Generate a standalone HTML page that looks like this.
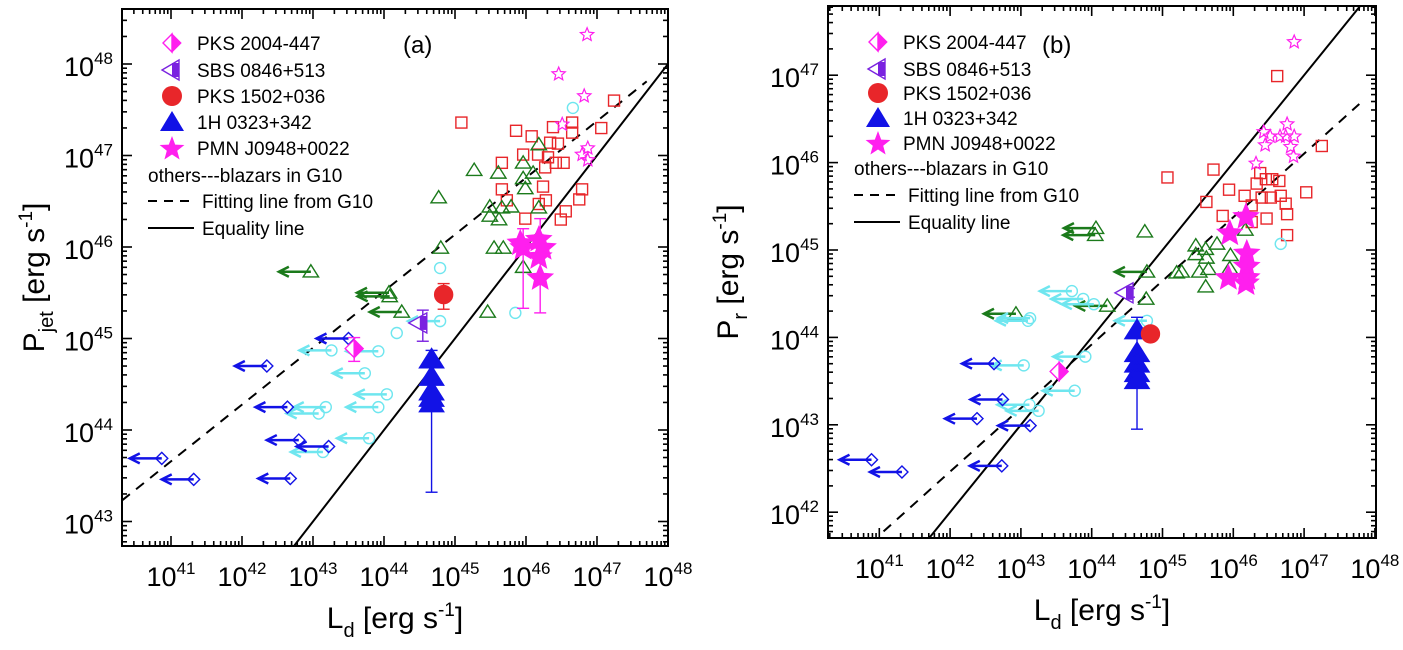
<!DOCTYPE html>
<html><head><meta charset="utf-8"><style>
html,body{margin:0;padding:0;background:#fff;overflow:hidden;width:1403px;height:650px;}
svg{display:block;font-family:"Liberation Sans",Arial,sans-serif;}
</style></head><body>
<svg id="chart" width="1403" height="650" viewBox="0 0 1403 650" xmlns="http://www.w3.org/2000/svg">
<rect x="0" y="0" width="1403" height="650" fill="#fff"/>
</svg>
<script>
// ---------- Panel (a) data (log10 values) ----------
const aRedSquares=[[45.09,47.36],[45.86,47.27],[46.08,47.21],[46.38,47.31],[46.65,47.36],[46.65,47.25],[47.24,47.60],[47.06,47.30],[46.34,47.14],[46.45,47.13],[45.96,47.01],[46.17,47.01],[46.31,46.98],[46.27,46.87],[45.66,46.92],[46.42,46.92],[46.53,46.92],[45.66,46.63],[46.24,46.66],[46.28,46.51],[45.73,46.51],[46.18,46.47],[46.79,46.63],[46.75,46.52],[46.56,46.39],[46.49,46.30],[45.99,46.31]];
const aGreenTri=[[45.27,46.84],[45.61,46.81],[45.96,46.92],[46.18,47.12],[45.96,46.75],[46.10,46.81],[45.99,46.64],[44.77,46.54],[45.49,46.44],[45.66,46.43],[45.79,46.44],[45.49,46.34],[45.62,46.30],[46.18,46.43],[45.55,45.99],[45.68,45.99],[44.80,45.99],[45.96,45.78],[45.46,45.29]];
const aGreenLim=[[42.97,45.73],[44.07,45.50],[44.08,45.46],[44.25,45.29]];
const aCyanCirc=[[44.79,45.77],[44.18,45.06],[46.66,47.52],[45.85,45.28]];
const aCyanLim=[[44.79,45.19],[43.26,44.87],[43.92,44.86],[43.73,44.62],[44.04,44.39],[43.92,44.25],[43.18,44.25],[43.08,44.18],[43.79,43.91],[43.14,43.76]];
const aBlueLim=[[43.50,45.00],[42.35,44.70],[42.64,44.25],[42.80,43.89],[43.22,43.82],[40.87,43.69],[41.32,43.46],[42.68,43.47]];
const aOpenStars=[[46.86,48.32],[46.46,47.89],[46.82,47.65],[46.51,47.34],[46.87,47.08],[46.79,47.01],[46.87,46.95]];
const aFilledStars=[[45.96,45.99],[46.18,46.08],[46.24,45.99],[46.18,45.89],[46.20,45.66],[45.92,46.04]];
const aStarErr=[[45.96,46.20,45.33],[46.20,46.31,45.28]];
const aPKS2004=[43.58,44.89,45.01,44.75];
const aSBS=[44.49,45.17,45.31,44.97];
const aPKS1502=[44.84,45.48,45.60,45.32];
const a1H_X=44.67;
const a1H_Y=[44.77,44.58,44.42,44.35,44.29];
const a1H_Err=[44.87,43.32];
const aFit=[[40.31,43.23],[47.70,47.81]];
// ---------- Panel (b) data ----------
const bRedSquares=[[46.62,46.99],[45.07,45.83],[45.72,45.92],[47.25,46.19],[45.94,45.69],[45.62,45.55],[46.38,45.88],[46.46,45.81],[46.55,45.81],[46.65,45.79],[46.33,45.76],[46.16,45.62],[46.40,45.60],[46.53,45.60],[46.67,45.62],[46.74,45.53],[46.26,45.51],[47.03,45.66],[46.76,45.41],[45.85,45.39],[46.47,45.36],[46.26,45.32],[46.76,45.17]];
const bGreenTri=[[44.75,45.21],[44.77,44.44],[45.20,44.74],[45.47,45.05],[45.61,45.01],[45.77,45.07],[45.47,44.95],[45.62,44.91],[45.96,44.94],[45.65,44.78],[45.27,44.75],[45.52,44.75],[45.95,44.79],[45.61,44.58],[46.17,45.23]];
const bGreenLim=[[44.06,45.25],[44.05,45.17],[44.78,44.75],[44.22,44.36],[42.93,44.27]];
const bCyanCirc=[[46.67,45.07]];
const bCyanLim=[[43.72,44.53],[43.88,44.44],[44.03,44.38],[43.13,44.22],[43.10,44.19],[44.78,44.19],[43.04,43.68],[43.91,43.78],[43.76,43.39],[43.12,43.23],[43.25,43.16]];
const bBlueLim=[[42.62,43.70],[42.74,43.29],[42.38,43.07],[43.13,42.99],[40.89,42.60],[41.32,42.46],[42.73,42.53]];
const bOpenStars=[[46.86,47.38],[46.76,46.44],[46.43,46.35],[46.52,46.30],[46.66,46.30],[46.74,46.30],[46.86,46.30],[46.45,46.20],[46.81,46.18],[46.85,46.07],[46.32,45.99]];
const bFilledStars=[[46.18,45.38],[45.95,45.19],[46.19,44.96],[45.93,44.68],[46.19,44.81],[46.19,44.68],[46.18,44.62]];
const bPKS2004=[43.54,43.61,43.64,43.58];
const bSBS=[44.47,44.51,44.56,44.46];
const bPKS1502=[44.83,44.04,44.04,44.04];
const b1H_X=44.64;
const b1H_Y=[44.08,43.82,43.70,43.59,43.51];
const b1H_Err=[44.23,42.95];
const bFit=[[41.06,41.78],[47.78,46.67]];

const legendNames=["PKS 2004-447","SBS 0846+513","PKS 1502+036","1H 0323+342","PMN J0948+0022"];

const NS="http://www.w3.org/2000/svg";
const svg=document.getElementById('chart');
const C={red:'#e8262a',green:'#1b7a1b',cyan:'#6fe6ef',blue:'#1212e6',mag:'#ff1fee',pur:'#7a22e0'};
function el(tag,attrs,parent){const e=document.createElementNS(NS,tag);for(const k in attrs)e.setAttribute(k,attrs[k]);(parent||svg).appendChild(e);return e;}

function makePanel(P){
  const g=el('g',{});
  
  
  const sx=v=>P.x41+(v-41)*P.dec, sy=v=>P.yref+(P.yrefV-v)*P.decY;
  const xMin=41+(P.L-P.x41)/P.dec,xMax=41+(P.R-P.x41)/P.dec;
  const yMin=P.yrefV-(P.B-P.yref)/P.decY,yMax=P.yrefV+(P.yref-P.T)/P.decY;
  const clipId='clip'+P.id;
  const cp=el('clipPath',{id:clipId},g);el('rect',{x:P.L,y:P.T,width:P.R-P.L,height:P.B-P.T},cp);
  const plot=el('g',{'clip-path':'url(#'+clipId+')'},g);
  const lo=Math.max(xMin,yMin),hi=Math.min(xMax,yMax);
  const eq=el('line',{x1:sx(lo),y1:sy(lo),x2:sx(hi),y2:sy(hi),stroke:'#000','stroke-width':2},plot);
  
  const fit=el('line',{x1:sx(P.fit[0][0]),y1:sy(P.fit[0][1]),x2:sx(P.fit[1][0]),y2:sy(P.fit[1][1]),stroke:'#000','stroke-width':2,'stroke-dasharray':'10,8'},plot);
  
  const m=el('g',{},plot);
  const arrow=(x,y,col)=>{el('line',{x1:x,y1:y,x2:x-32,y2:y,stroke:col,'stroke-width':2.5},m);el('polyline',{points:(x-22)+','+(y-5)+' '+(x-32)+','+y+' '+(x-22)+','+(y+5),fill:'none',stroke:col,'stroke-width':2.5},m);};
  const sq=(x,y,col)=>el('rect',{x:x-5.5,y:y-5.5,width:11,height:11,fill:'none',stroke:col,'stroke-width':1.4},m);
  const tri=(x,y,col,fill,s)=>{s=s||7;el('polygon',{points:x+','+(y-s)+' '+(x+s*1.1)+','+(y+s*0.75)+' '+(x-s*1.1)+','+(y+s*0.75),fill:fill?col:'none',stroke:col,'stroke-width':1.4},m);};
  const circ=(x,y,col,r,fill)=>el('circle',{cx:x,cy:y,r:r,fill:fill?col:'none',stroke:col,'stroke-width':1.4},m);
  const dia=(x,y,col)=>el('polygon',{points:x+','+(y-6)+' '+(x+6)+','+y+' '+x+','+(y+6)+' '+(x-6)+','+y,fill:'none',stroke:col,'stroke-width':1.4},m);
  const star=(x,y,col,r,fill)=>{let p=[];for(let i=0;i<10;i++){const a=-Math.PI/2+i*Math.PI/5,rr=i%2?r*0.45:r;p.push((x+rr*Math.cos(a)).toFixed(1)+','+(y+rr*Math.sin(a)).toFixed(1));}el('polygon',{points:p.join(' '),fill:fill?col:'none',stroke:col,'stroke-width':1.2},m);};
  const err=(x,y1,y2,col)=>{el('line',{x1:x,y1:y1,x2:x,y2:y2,stroke:col,'stroke-width':1.4},m);[y1,y2].forEach(yy=>el('line',{x1:x-6,y1:yy,x2:x+6,y2:yy,stroke:col,'stroke-width':1.4},m));};
  P.redSq.forEach(d=>sq(sx(d[0]),sy(d[1]),C.red));
  P.greenTri.forEach(d=>tri(sx(d[0]),sy(d[1]),C.green,false));
  P.greenLim.forEach(d=>{arrow(sx(d[0]),sy(d[1]),C.green);tri(sx(d[0]),sy(d[1]),C.green,false);});
  P.cyanCirc.forEach(d=>circ(sx(d[0]),sy(d[1]),C.cyan,5.5,false));
  P.cyanLim.forEach(d=>{arrow(sx(d[0]),sy(d[1]),C.cyan);circ(sx(d[0]),sy(d[1]),C.cyan,5.5,false);});
  P.blueLim.forEach(d=>{arrow(sx(d[0]),sy(d[1]),C.blue);dia(sx(d[0]),sy(d[1]),C.blue);});
  P.openStars.forEach(d=>star(sx(d[0]),sy(d[1]),C.mag,7,false));
  if(P.starErr)P.starErr.forEach(d=>err(sx(d[0]),sy(d[1]),sy(d[2]),C.mag));
  P.filledStars.forEach(d=>star(sx(d[0]),sy(d[1]),C.mag,13,true));
  err(sx(P.h1X),sy(P.h1Err[0]),sy(P.h1Err[1]),C.blue);
  P.h1Y.forEach(v=>tri(sx(P.h1X),sy(v),C.blue,true,11));
  {const x=sx(P.pks2004[0]),y=sy(P.pks2004[1]);if(P.pks2004[2]!==P.pks2004[3])err(x,sy(P.pks2004[2]),sy(P.pks2004[3]),C.mag);
   el('polygon',{points:x+','+(y-9)+' '+(x-9)+','+y+' '+x+','+(y+9),fill:'#fff',stroke:C.mag,'stroke-width':1.4},m);
   el('polygon',{points:x+','+(y-9)+' '+(x+9)+','+y+' '+x+','+(y+9),fill:C.mag,stroke:C.mag,'stroke-width':1.4},m);}
  {const x=sx(P.sbs[0]),y=sy(P.sbs[1]);err(x+4,sy(P.sbs[2]),sy(P.sbs[3]),C.pur);
   el('polygon',{points:(x-10)+','+y+' '+(x+8)+','+(y-10)+' '+(x+8)+','+(y+10),fill:'#fff',stroke:C.pur,'stroke-width':1.4},m);
   el('rect',{x:x+1,y:y-7,width:7,height:14,fill:C.pur},m);}
  {const x=sx(P.pks1502[0]),y=sy(P.pks1502[1]);if(P.pks1502[2]!==P.pks1502[3])err(x,sy(P.pks1502[2]),sy(P.pks1502[3]),C.red);circ(x,y,C.red,9,true);}
  const ax=el('g',{},g);
  el('rect',{x:P.L,y:P.T,width:P.R-P.L,height:P.B-P.T,fill:'none',stroke:'#000','stroke-width':2},ax);
  const xMaxT=xMax+0.03;
  for(let n=Math.floor(xMin);n<=Math.ceil(xMaxT);n++)for(let k=1;k<10;k++){const v=n+Math.log10(k);if(v<xMin||v>xMaxT)continue;const x=Math.min(sx(v),P.R),len=k===1?10:5;
    el('line',{x1:x,y1:P.B,x2:x,y2:P.B-len,stroke:'#000','stroke-width':1.6},ax);el('line',{x1:x,y1:P.T,x2:x,y2:P.T+len,stroke:'#000','stroke-width':1.6},ax);
    if(k===1){const t=el('text',{x:x,y:P.B+40,'font-size':27,'text-anchor':'middle',fill:'#000'},ax);t.textContent='10';const s=el('tspan',{'font-size':17,dy:-12},t);s.textContent=String(n);
      }}
  for(let n=Math.floor(yMin);n<=Math.ceil(yMax);n++)for(let k=1;k<10;k++){const v=n+Math.log10(k);if(v<yMin||v>yMax)continue;const y=sy(v),len=k===1?10:5;
    el('line',{x1:P.L,y1:y,x2:P.L+len,y2:y,stroke:'#000','stroke-width':1.6},ax);el('line',{x1:P.R,y1:y,x2:P.R-len,y2:y,stroke:'#000','stroke-width':1.6},ax);
    if(k===1){const t=el('text',{x:P.L-9,y:y+12,'font-size':27,'text-anchor':'end',fill:'#000'},ax);t.textContent='10';const s=el('tspan',{'font-size':17,dy:-12},t);s.textContent=String(n);
      }}
  const xt=el('text',{x:(P.L+P.R)/2,y:P.B+82,'font-size':30,'text-anchor':'middle',fill:'#000'},g);
  
  xt.innerHTML='L<tspan font-size="20" dy="9">d</tspan><tspan dy="-9">  [erg s</tspan><tspan font-size="19" dy="-12">-1</tspan><tspan dy="12">]</tspan>';
  const yt=el('text',{x:0,y:0,'font-size':30,'text-anchor':'middle',fill:'#000',transform:'translate('+P.ytx+','+((P.T+P.B)/2)+') rotate(-90)'},g);
  
  yt.innerHTML='P<tspan font-size="20" dy="9">'+P.ysub+'</tspan><tspan dy="-9">  [erg s</tspan><tspan font-size="19" dy="-12">-1</tspan><tspan dy="12">]</tspan>';
  const pl=el('text',{x:P.labX,y:53,'font-size':24,fill:'#000'},g);pl.textContent=P.label;
  
  const lg=el('g',{},g);
  const mx=P.legX,tx=P.legX+25,rows=P.legRows;
  const lm=el('g',{},lg);
  {const y=rows[0];el('polygon',{points:mx+','+(y-9)+' '+(mx-9)+','+y+' '+mx+','+(y+9),fill:'#fff',stroke:C.mag,'stroke-width':1.4},lm);el('polygon',{points:mx+','+(y-9)+' '+(mx+9)+','+y+' '+mx+','+(y+9),fill:C.mag,stroke:C.mag},lm);}
  {const y=rows[1];el('polygon',{points:(mx-10)+','+y+' '+(mx+7)+','+(y-10)+' '+(mx+7)+','+(y+10),fill:'#fff',stroke:C.pur,'stroke-width':1.4},lm);el('rect',{x:mx,y:y-7,width:7,height:14,fill:C.pur},lm);}
  el('circle',{cx:mx,cy:rows[2],r:10,fill:C.red},lm);
  el('polygon',{points:mx+','+(rows[3]-11)+' '+(mx+12)+','+(rows[3]+9)+' '+(mx-12)+','+(rows[3]+9),fill:C.blue},lm);
  {let p=[];for(let i=0;i<10;i++){const a=-Math.PI/2+i*Math.PI/5,rr=i%2?5.5:13;p.push((mx+rr*Math.cos(a)).toFixed(1)+','+(rows[4]+1+rr*Math.sin(a)).toFixed(1));}el('polygon',{points:p.join(' '),fill:C.mag},lm);}
  legendNames.forEach((n,i)=>{const t=el('text',{x:tx,y:rows[i]+7,'font-size':19,fill:'#000'},lg);t.textContent=n;});
  const o=el('text',{x:P.legX-24,y:rows[5]+7,'font-size':19,fill:'#000'},lg);o.textContent='others---blazars in G10';
  
  el('line',{x1:P.legX-24,y1:rows[6],x2:P.legX+22,y2:rows[6],stroke:'#000','stroke-width':2,'stroke-dasharray':'9,7'},lg);
  const f=el('text',{x:P.legX+30,y:rows[6]+7,'font-size':19,fill:'#000'},lg);f.textContent='Fitting line from G10';
  
  el('line',{x1:P.legX-24,y1:rows[7],x2:P.legX+22,y2:rows[7],stroke:'#000','stroke-width':2},lg);
  const q=el('text',{x:P.legX+30,y:rows[7]+7,'font-size':19,fill:'#000'},lg);q.textContent='Equality line';
  
}
makePanel({id:'a',name:'panel-a',L:122,R:668,T:9,B:546,x41:171,dec:71,yref:64,yrefV:48,decY:91.5,fit:aFit,
  redSq:aRedSquares,greenTri:aGreenTri,greenLim:aGreenLim,cyanCirc:aCyanCirc,cyanLim:aCyanLim,blueLim:aBlueLim,openStars:aOpenStars,filledStars:aFilledStars,starErr:aStarErr,
  h1X:a1H_X,h1Y:a1H_Y,h1Err:a1H_Err,pks2004:aPKS2004,sbs:aSBS,pks1502:aPKS1502,ysub:'jet',ytx:44,label:'(a)',labX:403,legX:172,legRows:[43,70,96,122,148,175,201,228]});
makePanel({id:'b',name:'panel-b',L:828,R:1376,T:6,B:538,x41:879.3,dec:70.8,yref:250,yrefV:45,decY:87.4,fit:bFit,
  redSq:bRedSquares,greenTri:bGreenTri,greenLim:bGreenLim,cyanCirc:bCyanCirc,cyanLim:bCyanLim,blueLim:bBlueLim,openStars:bOpenStars,filledStars:bFilledStars,starErr:null,
  h1X:b1H_X,h1Y:b1H_Y,h1Err:b1H_Err,pks2004:bPKS2004,sbs:bSBS,pks1502:bPKS1502,ysub:'r',ytx:738,label:'(b)',labX:1042,legX:878,legRows:[42,69,93,118,143,168,195,222]});
</script>
</body></html>
